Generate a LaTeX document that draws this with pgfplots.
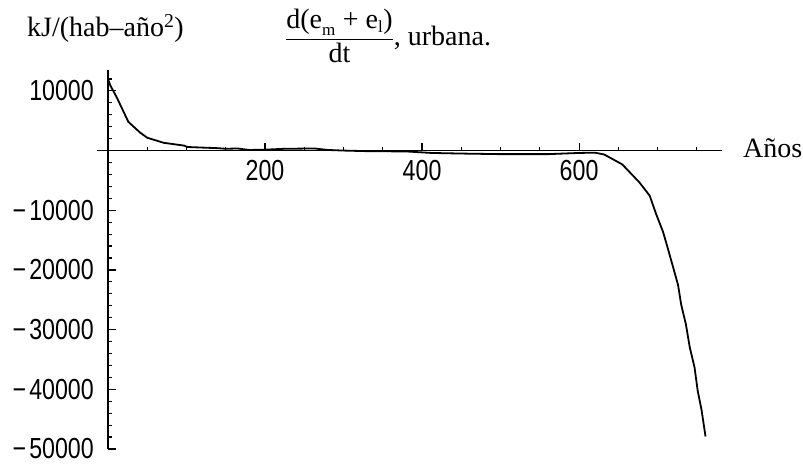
\documentclass[border=0pt]{standalone}
\usepackage{fontspec}
\setmainfont{Liberation Serif}
\newfontfamily\tickface[FakeStretch=0.8]{Liberation Sans}
\usepackage{pgfplots}
\pgfplotsset{compat=1.18}

\newcommand\tickfont{\tickface\fontsize{29}{32}\selectfont}
\newcommand\labelfont{\fontsize{28}{32}\selectfont}
\newcommand\subfont{\fontsize{17}{20}\selectfont}
\newcommand\mn{−\kern3pt}

\begin{document}
\begin{tikzpicture}
\useasboundingbox (0,0) rectangle (803pt,464pt);
\begin{axis}[
  at={(97pt,15pt)}, anchor=south west,
  scale only axis, width=625pt, height=379pt,
  axis lines=middle,
  axis line style={-, line width=1.7pt},
  xmin=-14, xmax=782, ymin=-50000, ymax=13500,
  scaled ticks=false,
  xtick={200,400,600}, xticklabels={200,400,600},
  ytick={-50000,-40000,-30000,-20000,-10000,10000},
  yticklabels={\mn50000,\mn40000,\mn30000,\mn20000,\mn10000,10000},
  minor xtick={50,100,150,250,300,350,450,500,550,650,700,750},
  minor ytick={-48000,-46000,-44000,-42000,-38000,-36000,-34000,-32000,
               -28000,-26000,-24000,-22000,-18000,-16000,-14000,-12000,
               -8000,-6000,-4000,-2000,2000,4000,6000,8000,12000},
  tick align=inside,
  major tick length=8pt, minor tick length=4pt,
  every tick/.style={black, line width=1.2pt},
  xticklabel style={font=\tickfont, anchor=north, inner sep=0pt, yshift=-9pt},
  yticklabel style={font=\tickfont, anchor=east, inner sep=0pt, xshift=-14pt},
  clip=false,
]
\addplot[black, line width=1.8pt, line join=round] coordinates {
  (0,12000) (3,10900) (11,8950) (26,4800) (41,3000) (50,2150) (71,1300)
  (97,830) (101,600) (120,500) (140,400) (150,300) (165,350) (180,100)
  (200,150) (225,300) (263,350) (280,100) (300,0) (330,-100) (380,-150)
  (412,-400) (450,-500) (500,-600) (560,-600) (600,-400) (620,-350)
  (632,-660) (655,-2320) (677,-5360) (690,-7580) (698,-10600) (707,-13650)
  (713,-16400) (719,-19200) (726,-22500) (730,-25800) (736,-29100)
  (741,-33000) (747,-36300) (751,-40200) (756,-43500) (761,-47900)
};
\end{axis}
\node[anchor=base west, inner sep=0pt, font=\labelfont] at (27pt,427pt) {kJ/(hab–año\textsuperscript{2})};
\node[anchor=base west, inner sep=0pt, font=\labelfont] at (743pt,306pt) {Años};
\node[anchor=west, inner sep=0pt, font=\labelfont] at (285pt,428pt)
  {$\displaystyle\frac{\mbox{d(e}_{\mbox{\subfont m}}\mbox{ + e}_{\mbox{\subfont l}}\mbox{)}}{\mbox{dt}}$, urbana.};
\end{tikzpicture}
\end{document}
